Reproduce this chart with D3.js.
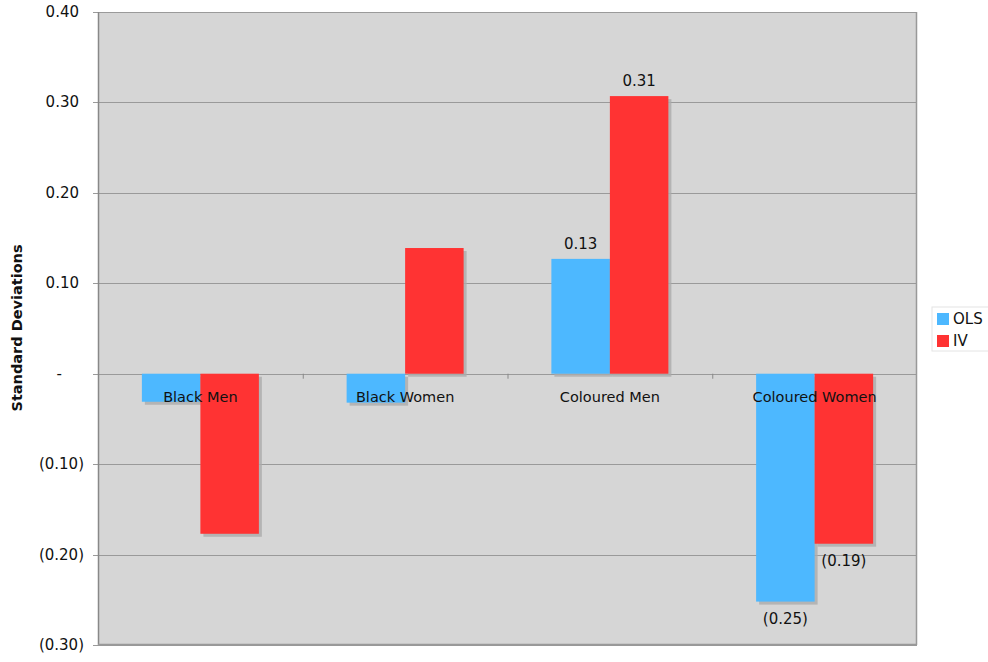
<!DOCTYPE html>
<html>
<head>
<meta charset="utf-8">
<script src="https://cdn.jsdelivr.net/npm/d3@7"></script>
<style>
  body { margin: 0; background: #fff; }
  text { font-family: "DejaVu Sans", Verdana, sans-serif; }
</style>
</head>
<body>
<div id="chart"></div>
<script>
// categories and series
var categories = ["Black Men", "Black Women", "Coloured Men", "Coloured Women"];
var seriesNames = ["OLS", "IV"];
var olsValues = [-0.031, -0.032, 0.127, -0.252];
var ivValues = [-0.177, 0.139, 0.307, -0.188];
// value labels shown (null = hidden)
var olsLabels = [null, null, "0.13", "(0.25)"];
var ivLabels = [null, null, "0.31", "(0.19)"];
var yTicks = [-0.3, -0.2, -0.1, 0, 0.1, 0.2, 0.3, 0.4];

var width = 988, height = 662;
var plotLeft = 98, plotRight = 917, plotTop = 12, plotBottom = 645;
var colors = ["#4db8ff", "#ff3333"];

var svg = d3.select("#chart").append("svg")
    .attr("width", width)
    .attr("height", height);

var y = d3.scaleLinear().domain([-0.3, 0.4]).range([plotBottom, plotTop]);
var x0 = d3.scaleBand().domain(categories).range([plotLeft, plotRight]);
var x1 = d3.scaleBand().domain(seriesNames)
    .range([0, x0.bandwidth()]).paddingOuter(0.75).paddingInner(0);

function fmt(v) {
    if (Math.abs(v) < 1e-9) return "-";
    if (v < 0) return "(" + d3.format(".2f")(-v) + ")";
    return d3.format(".2f")(v);
}

// plot background
svg.append("rect")
    .attr("x", plotLeft).attr("y", plotTop)
    .attr("width", plotRight - plotLeft).attr("height", plotBottom - plotTop)
    .attr("fill", "#d6d6d6");

// gridlines
svg.selectAll(".grid")
    .data(yTicks)
    .enter()
    .append("line")
    .attr("x1", plotLeft - 5).attr("x2", plotRight)
    .attr("y1", function (d) { return Math.round(y(d)) + 0.5; })
    .attr("y2", function (d) { return Math.round(y(d)) + 0.5; })
    .attr("stroke", "#9a9a9a")
    .attr("stroke-width", 1);

// tick labels
svg.selectAll(".ytick")
    .data(yTicks)
    .enter()
    .append("text")
    .attr("x", function (d) { return d < 0 ? 84 : (d > 0 ? 79 : 62); })
    .attr("y", function (d) { return y(d) + 5; })
    .attr("text-anchor", "end")
    .attr("font-size", "15px")
    .attr("fill", "#111")
    .text(fmt);

// bars data
var rows = categories.map(function (c, i) {
    return [
        { cat: c, s: "OLS", v: olsValues[i], label: olsLabels[i], color: colors[0] },
        { cat: c, s: "IV", v: ivValues[i], label: ivLabels[i], color: colors[1] }
    ];
});
var bars = [].concat.apply([], rows);

function barY(d) { return Math.min(y(d.v), y(0)); }
function barH(d) { return Math.abs(y(d.v) - y(0)); }

// shadows
svg.selectAll(".shadow")
    .data(bars)
    .enter()
    .append("rect")
    .attr("x", function (d) { return x0(d.cat) + x1(d.s) + 3; })
    .attr("y", function (d) { return barY(d) + 3; })
    .attr("width", x1.bandwidth())
    .attr("height", function (d) { return barH(d); })
    .attr("fill", "#ababab")
    .attr("opacity", 0.8);

svg.selectAll(".bar")
    .data(bars)
    .enter()
    .append("rect")
    .attr("x", function (d) { return x0(d.cat) + x1(d.s); })
    .attr("y", barY)
    .attr("width", x1.bandwidth())
    .attr("height", barH)
    .attr("fill", function (d) { return d.color; });

// left axis line and frame edges
svg.append("line")
    .attr("x1", plotLeft + 0.5).attr("x2", plotLeft + 0.5)
    .attr("y1", plotTop).attr("y2", plotBottom)
    .attr("stroke", "#888").attr("stroke-width", 1.5);
svg.append("line")
    .attr("x1", plotRight - 0.5).attr("x2", plotRight - 0.5)
    .attr("y1", plotTop).attr("y2", plotBottom)
    .attr("stroke", "#999").attr("stroke-width", 1.5);
svg.append("line")
    .attr("x1", plotLeft).attr("x2", plotRight)
    .attr("y1", plotBottom - 0.5).attr("y2", plotBottom - 0.5)
    .attr("stroke", "#999").attr("stroke-width", 1.5);

// category tick marks on zero line
svg.selectAll(".ctick")
    .data(categories.slice(1))
    .enter()
    .append("line")
    .attr("x1", function (d) { return x0(d) + 0.5; })
    .attr("x2", function (d) { return x0(d) + 0.5; })
    .attr("y1", y(0)).attr("y2", y(0) + 5)
    .attr("stroke", "#888");

// category labels
svg.selectAll(".cat")
    .data(categories)
    .enter()
    .append("text")
    .attr("x", function (d) { return x0(d) + x0.bandwidth() / 2; })
    .attr("y", y(0) + 28)
    .attr("text-anchor", "middle")
    .attr("font-size", "14.5px")
    .attr("fill", "#111")
    .text(function (d) { return d; });

// value labels
svg.selectAll(".vlabel")
    .data(bars.filter(function (d) { return d.label; }))
    .enter()
    .append("text")
    .attr("x", function (d) { return x0(d.cat) + x1(d.s) + x1.bandwidth() / 2; })
    .attr("y", function (d) { return d.v >= 0 ? y(d.v) - 10 : y(d.v) + 22; })
    .attr("text-anchor", "middle")
    .attr("font-size", "15px")
    .attr("fill", "#111")
    .text(function (d) { return d.label; });

// y axis title
svg.append("text")
    .attr("transform", "translate(22," + 328 + ") rotate(-90)")
    .attr("text-anchor", "middle")
    .attr("font-size", "14.5px")
    .attr("font-weight", "bold")
    .attr("fill", "#111")
    .text("Standard Deviations");

// legend
var legend = svg.append("g").attr("transform", "translate(932,307)");
legend.append("rect")
    .attr("width", 60).attr("height", 44)
    .attr("fill", "#fff").attr("stroke", "#e4e4e4");
var items = legend.selectAll(".item")
    .data(seriesNames)
    .enter()
    .append("g")
    .attr("transform", function (d, i) { return "translate(5," + (6 + i * 22) + ")"; });
items.append("rect")
    .attr("width", 12).attr("height", 12)
    .attr("fill", function (d, i) { return colors[i]; });
items.append("text")
    .attr("x", 16).attr("y", 11)
    .attr("font-size", "15px")
    .attr("fill", "#111")
    .text(function (d) { return d; });
</script>
</body>
</html>
